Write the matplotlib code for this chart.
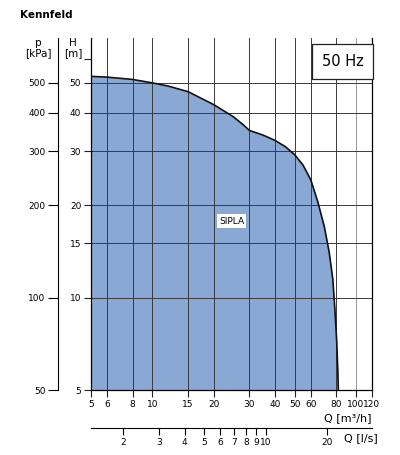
import numpy as np
import matplotlib.pyplot as plt
from matplotlib.ticker import FixedLocator, NullLocator, FixedFormatter

# curve (Q in m3/h, H in m)
q_curve = [5, 6, 8, 10, 12, 15, 20, 25, 28, 30, 35, 40, 45, 50, 55, 60, 65, 70, 74, 77, 79, 80.5, 81.5, 82]
h_curve = [52.5, 52.2, 51.3, 50.0, 48.8, 46.8, 42.5, 38.8, 36.5, 35.0, 33.8, 32.5, 31.0, 29.2, 27.0, 24.2, 20.5, 17.0, 14.0, 11.5, 9.0, 7.2, 5.8, 5.0]

q_ticks = [5, 6, 8, 10, 15, 20, 30, 40, 50, 60, 80, 100, 120]
h_ticks = [5, 10, 15, 20, 30, 40, 50]
p_ticks = [50, 100, 200, 300, 400, 500]
ls_ticks = [2, 3, 4, 5, 6, 7, 8, 9, 10, 20]

fill_c = '#8aa8d4'
grid_c = '#3a3a3a'

fig = plt.figure(figsize=(4, 4.55), dpi=100)
ax = fig.add_axes([91/400, 1-390/455, 281/400, 352/455])
ax.set_xscale('log')
ax.set_yscale('log')
ax.set_xlim(5, 120)
ax.set_ylim(5, 70)

ax.fill_between(q_curve, 5, h_curve, color=fill_c, lw=0, zorder=1)
ax.plot(q_curve, h_curve, color='#111111', lw=1.2, zorder=3)

for q in q_ticks[1:-1]:
    ax.axvline(q, color='#999999' if q == 100 else grid_c, lw=0.7, zorder=2)
for h in h_ticks[1:]:
    ax.axhline(h, color=grid_c, lw=0.7, zorder=2)

ax.xaxis.set_major_locator(FixedLocator(q_ticks))
ax.xaxis.set_major_formatter(FixedFormatter([str(q) for q in q_ticks]))
ax.xaxis.set_minor_locator(NullLocator())
ax.yaxis.set_major_locator(FixedLocator(h_ticks + [60]))
ax.yaxis.set_major_formatter(FixedFormatter([str(h) for h in h_ticks] + ['']))
ax.yaxis.set_minor_locator(NullLocator())
ax.tick_params(labelsize=6.5, length=5, width=0.8, color='#222222', pad=2)
ax.spines['top'].set_visible(False)
for s in ax.spines.values():
    s.set_linewidth(0.9)

sec = ax.secondary_yaxis(-0.117, functions=(lambda h: h * 10, lambda p: p / 10))
sec.yaxis.set_major_locator(FixedLocator(p_ticks))
sec.yaxis.set_major_formatter(FixedFormatter([str(p) for p in p_ticks]))
sec.yaxis.set_minor_locator(NullLocator())
sec.tick_params(labelsize=6.5, length=7, width=0.8, pad=2)

ax.text(0.5, 0.48, 'SIPLA', transform=ax.transAxes, fontsize=6.5, ha='center', va='center',
        bbox=dict(facecolor='white', edgecolor='none', pad=1.5), zorder=4)
ax.text(0.97, 0.955, '50 Hz', transform=ax.transAxes, fontsize=10.5, ha='right', va='top',
        bbox=dict(facecolor='white', edgecolor='#222222', pad=7, lw=0.9), zorder=5)

# l/s axis
ax2 = fig.add_axes([91/400, 1-428/455, 281/400, 0.001])
ax2.set_xscale('log')
ax2.set_xlim(5/3.6, 120/3.6)
for k in ['top', 'left', 'right']:
    ax2.spines[k].set_visible(False)
ax2.set_yticks([])
ax2.xaxis.set_major_locator(FixedLocator(ls_ticks))
ax2.xaxis.set_major_formatter(FixedFormatter([str(v) for v in ls_ticks]))
ax2.xaxis.set_minor_locator(NullLocator())
ax2.tick_params(labelsize=6.5, length=5, width=0.8, pad=2)

fig.text(20/400, 1-15/455, 'Kennfeld', fontsize=7.5, fontweight='bold', va='center')
fig.text(38/400, 1-48/455, 'p\n[kPa]', fontsize=7.5, ha='center', va='center', linespacing=0.95)
fig.text(73/400, 1-48/455, 'H\n[m]', fontsize=7.5, ha='center', va='center', linespacing=0.95)
fig.text(372/400, 1-413/455, 'Q [m³/h]', fontsize=8, ha='right', va='top')
fig.text(378/400, 1-438/455, 'Q [l/s]', fontsize=8, ha='right', va='center')

fig.savefig('out.png', dpi=100, facecolor='white')
